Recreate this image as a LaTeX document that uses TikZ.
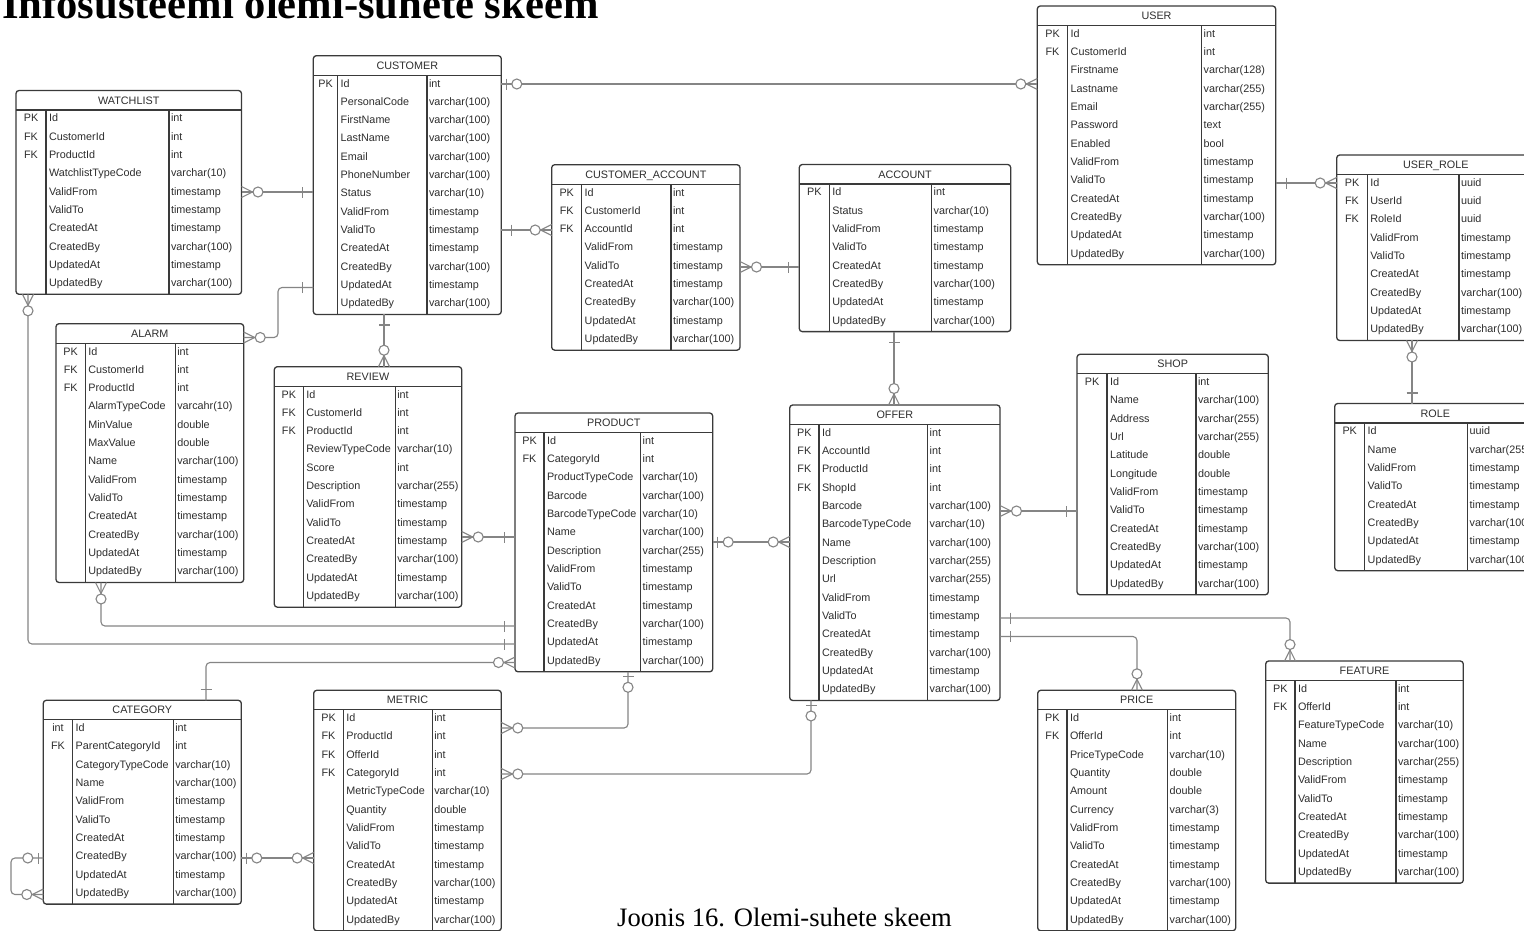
\documentclass[tikz,border=0pt]{standalone}
\usepackage{fontspec}
\setmainfont{Liberation Serif}
\newfontfamily\tabfont{Liberation Sans}
\usetikzlibrary{calc}
\definecolor{tblc}{HTML}{3A3A3A}
\definecolor{txtc}{HTML}{2E2E2E}
\definecolor{conc}{HTML}{858585}
\tikzset{
  tbl/.style={draw=tblc, line width=1.3pt, rounded corners=3pt, inner sep=0pt, outer sep=0pt},
  tline/.style={draw=tblc, line width=1.3pt},
  ttext/.style={font=\tabfont\fontsize{10.8}{12}\selectfont, text=txtc, inner sep=0pt},
  conn/.style={draw=conc, line width=1.1pt},
  % zero or many: crow foot with circle
  ezm/.pic={\draw[conn] (0,-5.5) -- (11,0) -- (0,5.5);
            \draw[conn, fill=white] (16.5,0) circle[radius=5pt];},
  % exactly one: single bar
  eone/.pic={\draw[conn] (10.5,-5.5) -- (10.5,5.5);},
  % zero or one: bar with circle
  ezo/.pic={\draw[conn] (5,-5.5) -- (5,5.5);
            \draw[conn, fill=white] (15.5,0) circle[radius=5pt];}
}
% #1 name, #2 left, #3 top, #4 key divider, #5 type divider, #6 right,
% #7 number of rows, #8 title, #9 rows as key/name/type
\newcommand\ertable[9]{%
  \pgfmathsetmacro\erhb{#3+19.5}%
  \pgfmathsetmacro\erbot{\erhb+#7*18.33+1}%
  \pgfmathsetmacro\erw{#6-#2}%
  \pgfmathsetmacro\erh{\erbot-#3}%
  \node[tbl, minimum width=\erw pt, minimum height=\erh pt] (#1) at ({(#2+#6)/2},{(#3+\erbot)/2}) {};
  \draw[tline] (#2,\erhb) -- (#6,\erhb);
  \draw[tline] (#4,\erhb) -- (#4,\erbot);
  \draw[tline] (#5,\erhb) -- (#5,\erbot);
  \node[ttext, anchor=base] (#1-title) at ({(#2+#6)/2},{#3+13.5}) {#8};
  \foreach \ka/\na/\ta [count=\ri from 0] in {#9} {
    \pgfmathsetmacro\rb{\erhb+11.8+\ri*18.33}
    \node[ttext, anchor=base] (#1-k\ri) at ({(#2+#4)/2},\rb) {\ka};
    \node[ttext, anchor=base west] (#1-n\ri) at ({#4+2.8},\rb) {\na};
    \node[ttext, anchor=base west] (#1-t\ri) at ({#5+1.8},\rb) {\ta};
  }%
}
\begin{document}
\begin{tikzpicture}[x=1pt,y=-1pt]
\useasboundingbox (0,0) rectangle (1524,930);
\clip (0,0) rectangle (1524,930);
\fill[white] (0,0) rectangle (1524,930);

% ---------- tables ----------
\ertable{watchlist}{16}{90.5}{46}{169}{241.5}{10}{WATCHLIST}{PK/Id/int,FK/CustomerId/int,FK/ProductId/int,/WatchlistTypeCode/varchar(10),/ValidFrom/timestamp,/ValidTo/timestamp,/CreatedAt/timestamp,/CreatedBy/varchar(100),/UpdatedAt/timestamp,/UpdatedBy/varchar(100)}

\ertable{customer}{313.3}{55.7}{337.7}{427}{501.3}{13}{CUSTOMER}{PK/Id/int,/PersonalCode/varchar(100),/FirstName/varchar(100),/LastName/varchar(100),/Email/varchar(100),/PhoneNumber/varchar(100),/Status/varchar(10),/ValidFrom/timestamp,/ValidTo/timestamp,/CreatedAt/timestamp,/CreatedBy/varchar(100),/UpdatedAt/timestamp,/UpdatedBy/varchar(100)}

\ertable{custacc}{551.7}{164.7}{581.7}{671}{740}{9}{CUSTOMER\_ACCOUNT}{PK/Id/int,FK/CustomerId/int,FK/AccountId/int,/ValidFrom/timestamp,/ValidTo/timestamp,/CreatedAt/timestamp,/CreatedBy/varchar(100),/UpdatedAt/timestamp,/UpdatedBy/varchar(100)}

\ertable{account}{799.3}{164.5}{829.3}{931.7}{1010.7}{8}{ACCOUNT}{PK/Id/int,/Status/varchar(10),/ValidFrom/timestamp,/ValidTo/timestamp,/CreatedAt/timestamp,/CreatedBy/varchar(100),/UpdatedAt/timestamp,/UpdatedBy/varchar(100)}

\ertable{user}{1037.3}{6}{1067.7}{1201.7}{1275.7}{13}{USER}{PK/Id/int,FK/CustomerId/int,/Firstname/varchar(128),/Lastname/varchar(255),/Email/varchar(255),/Password/text,/Enabled/bool,/ValidFrom/timestamp,/ValidTo/timestamp,/CreatedAt/timestamp,/CreatedBy/varchar(100),/UpdatedAt/timestamp,/UpdatedBy/varchar(100)}

\ertable{userrole}{1336.7}{155}{1367.3}{1459}{1535}{9}{USER\_ROLE}{PK/Id/uuid,FK/UserId/uuid,FK/RoleId/uuid,/ValidFrom/timestamp,/ValidTo/timestamp,/CreatedAt/timestamp,/CreatedBy/varchar(100),/UpdatedAt/timestamp,/UpdatedBy/varchar(100)}

\ertable{role}{1334.7}{403.5}{1364.7}{1467.7}{1536}{8}{ROLE}{PK/Id/uuid,/Name/varchar(255),/ValidFrom/timestamp,/ValidTo/timestamp,/CreatedAt/timestamp,/CreatedBy/varchar(100),/UpdatedAt/timestamp,/UpdatedBy/varchar(100)}

\ertable{alarm}{56}{323.7}{85.3}{175.3}{243.7}{13}{ALARM}{PK/Id/int,FK/CustomerId/int,FK/ProductId/int,/AlarmTypeCode/varcahr(10),/MinValue/double,/MaxValue/double,/Name/varchar(100),/ValidFrom/timestamp,/ValidTo/timestamp,/CreatedAt/timestamp,/CreatedBy/varchar(100),/UpdatedAt/timestamp,/UpdatedBy/varchar(100)}

\ertable{review}{274.3}{366.7}{303.3}{395.3}{461.7}{12}{REVIEW}{PK/Id/int,FK/CustomerId/int,FK/ProductId/int,/ReviewTypeCode/varchar(10),/Score/int,/Description/varchar(255),/ValidFrom/timestamp,/ValidTo/timestamp,/CreatedAt/timestamp,/CreatedBy/varchar(100),/UpdatedAt/timestamp,/UpdatedBy/varchar(100)}

\ertable{product}{515}{413}{544}{640.7}{712.7}{13}{PRODUCT}{PK/Id/int,FK/CategoryId/int,/ProductTypeCode/varchar(10),/Barcode/varchar(100),/BarcodeTypeCode/varchar(10),/Name/varchar(100),/Description/varchar(255),/ValidFrom/timestamp,/ValidTo/timestamp,/CreatedAt/timestamp,/CreatedBy/varchar(100),/UpdatedAt/timestamp,/UpdatedBy/varchar(100)}

\ertable{offer}{789.7}{405}{819}{927.7}{1000}{15}{OFFER}{PK/Id/int,FK/AccountId/int,FK/ProductId/int,FK/ShopId/int,/Barcode/varchar(100),/BarcodeTypeCode/varchar(10),/Name/varchar(100),/Description/varchar(255),/Url/varchar(255),/ValidFrom/timestamp,/ValidTo/timestamp,/CreatedAt/timestamp,/CreatedBy/varchar(100),/UpdatedAt/timestamp,/UpdatedBy/varchar(100)}

\ertable{shop}{1077}{354.3}{1107}{1196}{1268.3}{12}{SHOP}{PK/Id/int,/Name/varchar(100),/Address/varchar(255),/Url/varchar(255),/Latitude/double,/Longitude/double,/ValidFrom/timestamp,/ValidTo/timestamp,/CreatedAt/timestamp,/CreatedBy/varchar(100),/UpdatedAt/timestamp,/UpdatedBy/varchar(100)}

\ertable{category}{43.3}{700.3}{72.7}{173.3}{241.3}{10}{CATEGORY}{int/Id/int,FK/ParentCategoryId/int,/CategoryTypeCode/varchar(10),/Name/varchar(100),/ValidFrom/timestamp,/ValidTo/timestamp,/CreatedAt/timestamp,/CreatedBy/varchar(100),/UpdatedAt/timestamp,/UpdatedBy/varchar(100)}

\ertable{metric}{313.7}{690.3}{343.3}{432.3}{501.3}{12}{METRIC}{PK/Id/int,FK/ProductId/int,FK/OfferId/int,FK/CategoryId/int,/MetricTypeCode/varchar(10),/Quantity/double,/ValidFrom/timestamp,/ValidTo/timestamp,/CreatedAt/timestamp,/CreatedBy/varchar(100),/UpdatedAt/timestamp,/UpdatedBy/varchar(100)}

\ertable{price}{1037.7}{690.3}{1067}{1167.7}{1235.7}{12}{PRICE}{PK/Id/int,FK/OfferId/int,/PriceTypeCode/varchar(10),/Quantity/double,/Amount/double,/Currency/varchar(3),/ValidFrom/timestamp,/ValidTo/timestamp,/CreatedAt/timestamp,/CreatedBy/varchar(100),/UpdatedAt/timestamp,/UpdatedBy/varchar(100)}

\ertable{feature}{1265.7}{661}{1295}{1396}{1463.3}{11}{FEATURE}{PK/Id/int,FK/OfferId/int,/FeatureTypeCode/varchar(10),/Name/varchar(100),/Description/varchar(255),/ValidFrom/timestamp,/ValidTo/timestamp,/CreatedAt/timestamp,/CreatedBy/varchar(100),/UpdatedAt/timestamp,/UpdatedBy/varchar(100)}

% ---------- relationships ----------
\begin{scope}[conn, rounded corners=4pt]
  \draw (customer.east |- 0,84) -- (user.west |- 0,84);
  \draw (watchlist.east |- 0,192) -- (customer.west |- 0,192);
  \draw (alarm.east |- 0,337.5) -- (278,337.5) -- (278,287.5) -- (customer.west |- 0,287.5);
  \draw (customer.east |- 0,230) -- (custacc.west |- 0,230);
  \draw (custacc.east |- 0,267) -- (account.west |- 0,267);
  \draw (customer.south -| 384,0) -- (review.north -| 384,0);
  \draw (account.south -| 894,0) -- (offer.north -| 894,0);
  \draw (user.east |- 0,183) -- (userrole.west |- 0,183);
  \draw (userrole.south -| 1412,0) -- (role.north -| 1412,0);
  \draw (review.east |- 0,537) -- (product.west |- 0,537);
  \draw (product.east |- 0,542) -- (offer.west |- 0,542);
  \draw (offer.east |- 0,511) -- (shop.west |- 0,511);
  \draw (watchlist.south -| 28,0) |- (product.west |- 0,644);
  \draw (alarm.south -| 101,0) |- (product.west |- 0,626);
  \draw (category.north -| 206,0) |- (product.west |- 0,662.5);
  \draw (product.south -| 628,0) |- (metric.east |- 0,728);
  \draw (offer.south -| 811,0) |- (metric.east |- 0,774);
  \draw (category.east |- 0,858) -- (metric.west |- 0,858);
  \draw (category.west |- 0,858) -- (11,858) -- (11,894.5) -- (category.west |- 0,894.5);
  \draw (offer.east |- 0,636.5) -| (price.north -| 1137,0);
  \draw (offer.east |- 0,618) -| (feature.north -| 1290,0);
\end{scope}

% ---------- cardinality marks ----------
\pic at (customer.east |- 0,84) {ezo};
\pic[rotate=180] at (user.west |- 0,84) {ezm};
\pic at (watchlist.east |- 0,192) {ezm};
\pic[rotate=180] at (customer.west |- 0,192) {eone};
\pic at (alarm.east |- 0,337.5) {ezm};
\pic[rotate=180] at (customer.west |- 0,287.5) {eone};
\pic at (customer.east |- 0,230) {eone};
\pic[rotate=180] at (custacc.west |- 0,230) {ezm};
\pic at (custacc.east |- 0,267) {ezm};
\pic[rotate=180] at (account.west |- 0,267) {eone};
\pic[rotate=-90] at (customer.south -| 384,0) {eone};
\pic[rotate=90] at (review.north -| 384,0) {ezm};
\pic[rotate=-90] at (account.south -| 894,0) {eone};
\pic[rotate=90] at (offer.north -| 894,0) {ezm};
\pic at (user.east |- 0,183) {eone};
\pic[rotate=180] at (userrole.west |- 0,183) {ezm};
\pic[rotate=-90] at (userrole.south -| 1412,0) {ezm};
\pic[rotate=90] at (role.north -| 1412,0) {eone};
\pic at (review.east |- 0,537) {ezm};
\pic[rotate=180] at (product.west |- 0,537) {eone};
\pic at (product.east |- 0,542) {ezo};
\pic[rotate=180] at (offer.west |- 0,542) {ezm};
\pic at (offer.east |- 0,511) {ezm};
\pic[rotate=180] at (shop.west |- 0,511) {eone};
\pic[rotate=-90] at (watchlist.south -| 28,0) {ezm};
\pic[rotate=180] at (product.west |- 0,644) {eone};
\pic[rotate=-90] at (alarm.south -| 101,0) {ezm};
\pic[rotate=180] at (product.west |- 0,626) {eone};
\pic[rotate=90] at (category.north -| 206,0) {eone};
\pic[rotate=180] at (product.west |- 0,662.5) {ezm};
\pic[rotate=-90] at (product.south -| 628,0) {ezo};
\pic at (metric.east |- 0,728) {ezm};
\pic[rotate=-90] at (offer.south -| 811,0) {ezo};
\pic at (metric.east |- 0,774) {ezm};
\pic at (category.east |- 0,858) {ezo};
\pic[rotate=180] at (metric.west |- 0,858) {ezm};
\pic[rotate=180] at (category.west |- 0,858) {ezo};
\pic[rotate=180] at (category.west |- 0,894.5) {ezm};
\pic at (offer.east |- 0,636.5) {eone};
\pic[rotate=90] at (price.north -| 1137,0) {ezm};
\pic at (offer.east |- 0,618) {eone};
\pic[rotate=90] at (feature.north -| 1290,0) {ezm};

% ---------- heading and caption ----------
\node[anchor=base west, inner sep=0pt, font=\fontsize{42.6}{44}\selectfont\bfseries] (heading) at (2,18) {Infosüsteemi olemi-suhete skeem};
\node[anchor=base west, inner sep=0pt, font=\fontsize{26.6}{28}\selectfont] (caption) at (617,926) {Joonis 16. Olemi-suhete skeem};
\end{tikzpicture}
\end{document}
